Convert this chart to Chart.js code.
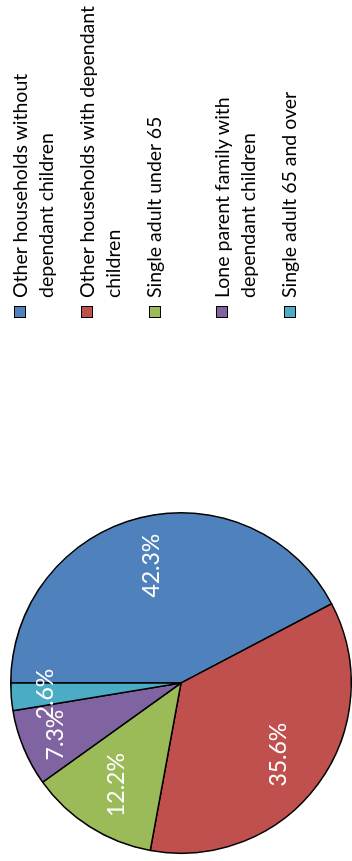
<!DOCTYPE html>
<html>
<head>
<meta charset="utf-8">
<script src="https://cdn.jsdelivr.net/npm/chart.js@4.4.0/dist/chart.umd.min.js"></script>
<style>
  html, body { margin: 0; padding: 0; background: #fff; }
  body { width: 352px; height: 861px; overflow: hidden; position: relative; }
  /* chart is laid out 861x352 and turned a quarter to the left */
  #wrap { position: absolute; left: 0; top: 861px; width: 861px; height: 352px; transform-origin: 0 0; transform: rotate(-90deg); }
  #chart { position: absolute; left: 0; top: 0; }
  #legend { position: absolute; left: 543px; top: 0; width: 318px; height: 352px; font-family: Lato, sans-serif; font-size: 19.5px; line-height: 26px; color: #000; }
  .item { position: absolute; left: 0; width: 318px; }
  .box { position: absolute; left: 0; top: 7.4px; width: 10px; height: 10px; border: 1.5px solid #000; }
  .txt { position: absolute; left: 20px; top: 0; width: 292px; }
</style>
</head>
<body>
<div id="wrap">
  <canvas id="chart" width="861" height="352"></canvas>
  <div id="legend"></div>
</div>
<script>
const categories = [
    'Other households without dependant children',
    'Other households with dependant children',
    'Single adult under 65',
    'Lone parent family with dependant children',
    'Single adult 65 and over'
];
const shares = [42.3, 35.6, 12.2, 7.3, 2.6];
const colors = ['#4F81BD', '#C0504D', '#9BBB59', '#8064A2', '#4BACC6'];

// Percent labels inside the slices
const sliceLabels = {
    id: 'sliceLabels',
    afterDatasetsDraw(chart) {
        const ctx = chart.ctx;
        const meta = chart.getDatasetMeta(0);
        ctx.save();
        ctx.font = '23px Lato';
        ctx.fillStyle = '#fff';
        ctx.textAlign = 'center';
        ctx.textBaseline = 'middle';
        meta.data.forEach((arc, i) => {
            const p = arc.getProps(['x', 'y', 'startAngle', 'endAngle', 'outerRadius'], true);
            const mid = (p.startAngle + p.endAngle) / 2;
            const f = shares[i] < 10 ? 0.8 : 0.71;
            ctx.fillText(shares[i].toFixed(1) + '%',
                p.x + Math.cos(mid) * p.outerRadius * f,
                p.y + Math.sin(mid) * p.outerRadius * f);
        });
        ctx.restore();
    }
};

const chart = new Chart(document.getElementById('chart').getContext('2d'), {
    type: 'pie',
    data: {
        labels: categories,
        datasets: [{
            data: shares,
            backgroundColor: colors,
            borderColor: '#000',
            borderWidth: 1.5
        }]
    },
    options: {
        responsive: false,
        animation: false,
        devicePixelRatio: 1,
        layout: { padding: { left: 7, top: 10, right: 512, bottom: 0 } },
        plugins: {
            legend: { display: false },
            tooltip: { enabled: false }
        }
    },
    plugins: [sliceLabels]
});

// Legend built from the chart's own labels
const legend = document.getElementById('legend');
chart.data.labels.forEach((name, i) => {
    const item = document.createElement('div');
    item.className = 'item';
    item.style.top = (6.6 + 67.4 * i) + 'px';
    item.innerHTML = `<span class="box" style="background:${colors[i]}"></span><div class="txt">${name}</div>`;
    legend.appendChild(item);
});
</script>
</body>
</html>
